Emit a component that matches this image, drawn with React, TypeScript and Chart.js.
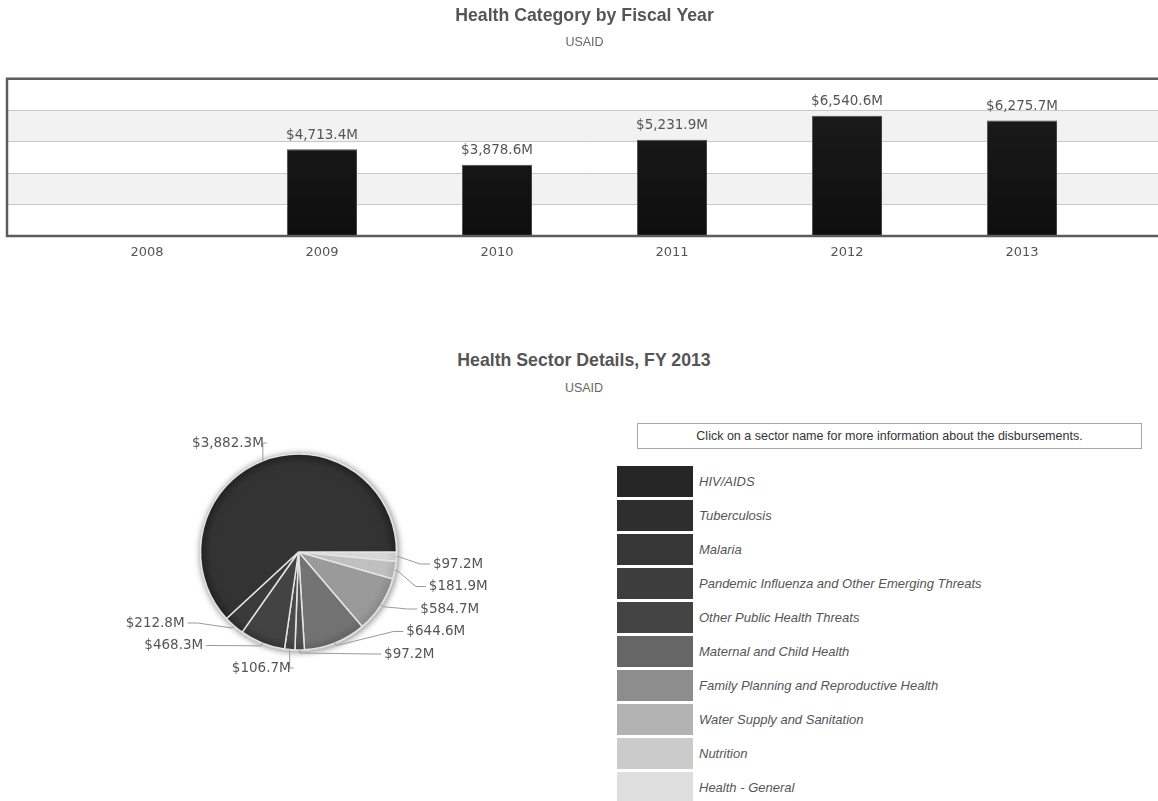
import React, { useEffect, useRef } from "react";
import { Chart, registerables } from "chart.js";

Chart.register(...registerables);

// ---------- data ----------
const fiscalYears = [2008, 2009, 2010, 2011, 2012, 2013];
const healthTotals: (number | null)[] = [null, 4713.4, 3878.6, 5231.9, 6540.6, 6275.7];

const sectorNames = [
  "HIV/AIDS",
  "Tuberculosis",
  "Malaria",
  "Pandemic Influenza and Other Emerging Threats",
  "Other Public Health Threats",
  "Maternal and Child Health",
  "Family Planning and Reproductive Health",
  "Water Supply and Sanitation",
  "Nutrition",
  "Health - General",
];
const sectorValues = [3882.3, 212.8, 468.3, 106.7, 97.2, 644.6, 584.7, 181.9, 97.2, 0];
const sectorColors = [
  "#262626", "#2e2e2e", "#363636", "#3d3d3d", "#444444",
  "#666666", "#8d8d8d", "#b3b3b3", "#cbcbcb", "#dedede",
];

// axis ranges
const X_MIN = 2007.2;
const X_MAX = 2013.8;
const Y_MAX = 8550;
const PIE_R = 98;

const SANS = "'Liberation Sans', Arial, sans-serif";
const VERD = "'DejaVu Sans', Verdana, sans-serif";

const fmt = (v: number) =>
  "$" + v.toLocaleString("en-US", { minimumFractionDigits: 1, maximumFractionDigits: 1 }) + "M";

function shade(hex: string, amt: number) {
  const n = parseInt(hex.slice(1), 16);
  const c = (v: number) => Math.max(0, Math.min(255, v + amt));
  const r = c((n >> 16) & 255), g = c((n >> 8) & 255), b = c(n & 255);
  return `rgb(${r},${g},${b})`;
}

// ---------- bar chart plugins ----------
const barDecor = {
  id: "barDecor",
  beforeDraw(chart: any) {
    const { ctx, chartArea } = chart;
    const y = chart.scales.y;
    const ticks = y.ticks;
    ctx.save();
    ctx.fillStyle = "#f2f2f2";
    for (let i = 1; i < ticks.length - 1; i += 2) {
      const a = y.getPixelForValue(ticks[i].value);
      const b = y.getPixelForValue(ticks[i + 1].value);
      ctx.fillRect(chartArea.left, b, chartArea.right - chartArea.left, a - b);
    }
    ctx.restore();
  },
  beforeDatasetsDraw(chart: any) {
    const ctx = chart.ctx;
    ctx.save();
    ctx.shadowColor = "rgba(0,0,0,0.35)";
    ctx.shadowBlur = 4;
    ctx.shadowOffsetX = 2;
    ctx.shadowOffsetY = 1;
  },
  afterDatasetsDraw(chart: any) {
    const ctx = chart.ctx;
    ctx.restore();
    const meta = chart.getDatasetMeta(0);
    ctx.save();
    ctx.font = `13.5px ${VERD}`;
    ctx.fillStyle = "#555";
    ctx.textAlign = "center";
    ctx.textBaseline = "middle";
    meta.data.forEach((el: any, i: number) => {
      const v = healthTotals[i];
      if (v == null) return;
      ctx.fillText(fmt(v), el.x, el.y - 14);
    });
    ctx.restore();
  },
  afterDraw(chart: any) {
    const { ctx, chartArea } = chart;
    ctx.save();
    ctx.strokeStyle = "#5c5c5c";
    ctx.lineWidth = 2.5;
    ctx.strokeRect(chartArea.left, chartArea.top, chartArea.right - chartArea.left, chartArea.bottom - chartArea.top);
    ctx.restore();
  },
};

// ---------- pie label plugin ----------
const pieValues = [...sectorValues].reverse();
const pieColors = [...sectorColors].reverse();
const pieNames = [...sectorNames].reverse();

const pieDecor = {
  id: "pieDecor",
  beforeDatasetsDraw(chart: any) {
    const { ctx, chartArea } = chart;
    const cx = (chartArea.left + chartArea.right) / 2;
    const cy = (chartArea.top + chartArea.bottom) / 2;
    ctx.save();
    ctx.shadowColor = "rgba(0,0,0,0.45)";
    ctx.shadowBlur = 6;
    ctx.shadowOffsetX = 1;
    ctx.shadowOffsetY = 1;
    ctx.fillStyle = "#cfcfcf";
    ctx.beginPath();
    ctx.arc(cx, cy, PIE_R + 1.5, 0, Math.PI * 2);
    ctx.fill();
    ctx.restore();
  },
  afterDatasetsDraw(chart: any) {
    const { ctx } = chart;
    const meta = chart.getDatasetMeta(0);
    const H = 22.5, GAP = 32;
    type Item = { i: number; side: number; target: number; y: number; ex: number; ey: number; px: number; py: number; mid: number };
    const items: Item[] = [];
    let cx = 0, cy = 0, r = PIE_R;
    meta.data.forEach((arc: any, i: number) => {
      const v = pieValues[i];
      const p = arc.getProps(["x", "y", "startAngle", "endAngle", "outerRadius"], true);
      cx = p.x; cy = p.y; r = p.outerRadius;
      if (!v) return;
      const mid = (p.startAngle + p.endAngle) / 2;
      const side = Math.cos(mid) >= 0 ? 1 : -1;
      items.push({
        i, side, mid,
        target: cy + (r + 30) * Math.sin(mid),
        y: 0,
        ex: cx + r * Math.cos(mid),
        ey: cy + r * Math.sin(mid),
        px: cx + (r + 3) * Math.cos(mid),
        py: cy + (r + 3) * Math.sin(mid),
      });
    });
    const distribute = (list: Item[], minY: number, maxY: number) => {
      list.sort((a, b) => a.target - b.target);
      let groups = list.map((it) => ({ items: [it], sum: it.target }));
      const start = (g: any) => {
        const n = g.items.length;
        let s = g.sum / n - ((n - 1) * H) / 2;
        s = Math.min(s, maxY - (n - 1) * H);
        s = Math.max(s, minY);
        return s;
      };
      let changed = true;
      while (changed) {
        changed = false;
        for (let k = 0; k < groups.length - 1; k++) {
          const a = groups[k], b = groups[k + 1];
          const aEnd = start(a) + (a.items.length - 1) * H;
          if (start(b) - aEnd < GAP) {
            groups.splice(k, 2, { items: [...a.items, ...b.items], sum: a.sum + b.sum });
            changed = true;
            break;
          }
        }
      }
      groups.forEach((g) => {
        const s = start(g);
        g.items.forEach((it, j) => (it.y = s + j * H));
      });
    };
    distribute(items.filter((it) => it.side > 0), cy - r - 11, cy + r + 4);
    distribute(items.filter((it) => it.side < 0), cy - r - 11, cy + r + 18);

    ctx.save();
    ctx.font = `13.5px ${VERD}`;
    ctx.fillStyle = "#555";
    ctx.strokeStyle = "#9a9a9a";
    ctx.lineWidth = 1;
    ctx.textBaseline = "middle";
    const xR = r + 32;
    items.forEach((it) => {
      const dy = it.y - cy;
      const s = it.side;
      ctx.beginPath();
      let ax: number;
      if (Math.abs(dy) > r + 5) {
        ax = it.ex - 6 * s;
        ctx.moveTo(ax + 2 * s, it.y);
        ctx.lineTo(it.ex, it.y);
        ctx.lineTo(it.ex, it.ey);
      } else {
        ax = cx + s * Math.sqrt(Math.max(0, xR * xR - dy * dy));
        ctx.moveTo(ax + 2 * s, it.y);
        ctx.lineTo(ax - 8 * s, it.y);
        ctx.lineTo(it.px, it.py);
        ctx.lineTo(it.ex, it.ey);
      }
      ctx.stroke();
      ctx.textAlign = s > 0 ? "left" : "right";
      ctx.fillText(fmt(pieValues[it.i]), ax + 5 * s, it.y);
    });
    ctx.restore();
  },
};

export default function App() {
  const barRef = useRef<HTMLCanvasElement>(null);
  const pieRef = useRef<HTMLCanvasElement>(null);

  useEffect(() => {
    const bar = new Chart(barRef.current as HTMLCanvasElement, {
      type: "bar",
      data: {
        datasets: [
          {
            data: fiscalYears.map((x, i) => ({ x, y: healthTotals[i] })) as any,
            barPercentage: 0.4,
            categoryPercentage: 1,
            borderColor: "#5a5a5a",
            borderWidth: 1,
            backgroundColor: (c: any) => {
              const area = c.chart.chartArea;
              if (!area) return "#161616";
              const g = c.chart.ctx.createLinearGradient(0, area.top, 0, area.bottom);
              g.addColorStop(0, "#1e1e1e");
              g.addColorStop(1, "#0e0e0e");
              return g;
            },
          },
        ],
      },
      options: {
        responsive: false,
        animation: false,
        layout: { padding: { left: 7, right: 2, top: 0, bottom: 0 } },
        plugins: {
          legend: { display: false },
          tooltip: { enabled: false },
          title: {
            display: true,
            text: "Health Category by Fiscal Year",
            color: "#555",
            font: { family: SANS, size: 17.7, weight: "bold", lineHeight: 1.2 },
            padding: { top: 5, bottom: 0 },
          },
          subtitle: {
            display: true,
            text: "USAID",
            color: "#666",
            font: { family: SANS, size: 12.5, lineHeight: 1.2 },
            padding: { top: 9, bottom: 28.5 },
          },
        },
        scales: {
          x: {
            type: "linear",
            min: X_MIN,
            max: X_MAX,
            offset: false,
            grid: { display: false, drawTicks: false },
            border: { display: false },
            ticks: {
              stepSize: 1,
              includeBounds: false,
              autoSkip: false,
              maxRotation: 0,
              padding: 8.5,
              color: "#555",
              font: { family: VERD, size: 13 },
              callback: (v: any) => String(v),
            },
            afterBuildTicks: (s: any) => {
              s.ticks = fiscalYears.map((v) => ({ value: v }));
            },
            afterFit: (s: any) => {
              s.height = 40;
            },
          },
          y: {
            min: 0,
            max: Y_MAX,
            ticks: { display: false, count: 6 },
            grid: { color: "#c8c8c8", drawTicks: false, lineWidth: 1 },
            border: { display: false },
            afterFit: (s: any) => {
              s.width = 0;
            },
          },
        },
      } as any,
      plugins: [barDecor],
    });

    const pie = new Chart(pieRef.current as HTMLCanvasElement, {
      type: "pie",
      data: {
        labels: pieNames,
        datasets: [
          {
            data: pieValues,
            borderColor: "#e4e4e4",
            borderWidth: 1.5,
            backgroundColor: (c: any) => {
              const base = pieColors[c.dataIndex] || "#888888";
              const area = c.chart.chartArea;
              if (!area) return base;
              const cx = (area.left + area.right) / 2;
              const cy = (area.top + area.bottom) / 2;
              const g = c.chart.ctx.createRadialGradient(cx, cy, 0, cx, cy, PIE_R);
              g.addColorStop(0, shade(base, 14));
              g.addColorStop(0.9, shade(base, 12));
              g.addColorStop(1, shade(base, -4));
              return g;
            },
          },
        ],
      },
      options: {
        responsive: false,
        animation: false,
        rotation: 90,
        radius: PIE_R,
        layout: { padding: 0 },
        plugins: { legend: { display: false }, tooltip: { enabled: false } },
      } as any,
      plugins: [pieDecor],
    });

    return () => {
      bar.destroy();
      pie.destroy();
    };
  }, []);

  return (
    <div
      style={{
        position: "absolute",
        left: 0,
        top: 0,
        width: 1158,
        height: 801,
        overflow: "hidden",
        background: "#fff",
      }}
    >
      <canvas ref={barRef} width={1164} height={276} style={{ position: "absolute", left: 0, top: 0 }} />
      <div
        style={{
          position: "absolute",
          left: 0,
          top: 347,
          width: 1168,
          textAlign: "center",
          fontFamily: SANS,
          fontWeight: "bold",
          fontSize: 17.7,
          lineHeight: "26px",
          color: "#555",
        }}
      >
        Health Sector Details, FY 2013
      </div>
      <div
        style={{
          position: "absolute",
          left: 0,
          top: 379,
          width: 1168,
          textAlign: "center",
          fontFamily: SANS,
          fontSize: 12.5,
          lineHeight: "18px",
          color: "#666",
        }}
      >
        USAID
      </div>
      <canvas ref={pieRef} width={597} height={304} style={{ position: "absolute", left: 0, top: 400 }} />
      <div
        style={{
          position: "absolute",
          left: 637,
          top: 423,
          width: 503,
          height: 24,
          border: "1px solid #a8a8a8",
          fontFamily: SANS,
          fontSize: 12.5,
          lineHeight: "24px",
          textAlign: "center",
          color: "#333",
          whiteSpace: "nowrap",
        }}
      >
        Click on a sector name for more information about the disbursements.
      </div>
      {sectorNames.map((name, i) => (
        <div
          key={name}
          style={{ position: "absolute", left: 617, top: 466 + i * 34, height: 31, display: "flex", alignItems: "center" }}
        >
          <div style={{ width: 76, height: 31, background: sectorColors[i] }} />
          <span
            style={{
              marginLeft: 6,
              fontFamily: SANS,
              fontStyle: "italic",
              fontSize: 13,
              color: "#555",
              whiteSpace: "nowrap",
            }}
          >
            {name}
          </span>
        </div>
      ))}
    </div>
  );
}
